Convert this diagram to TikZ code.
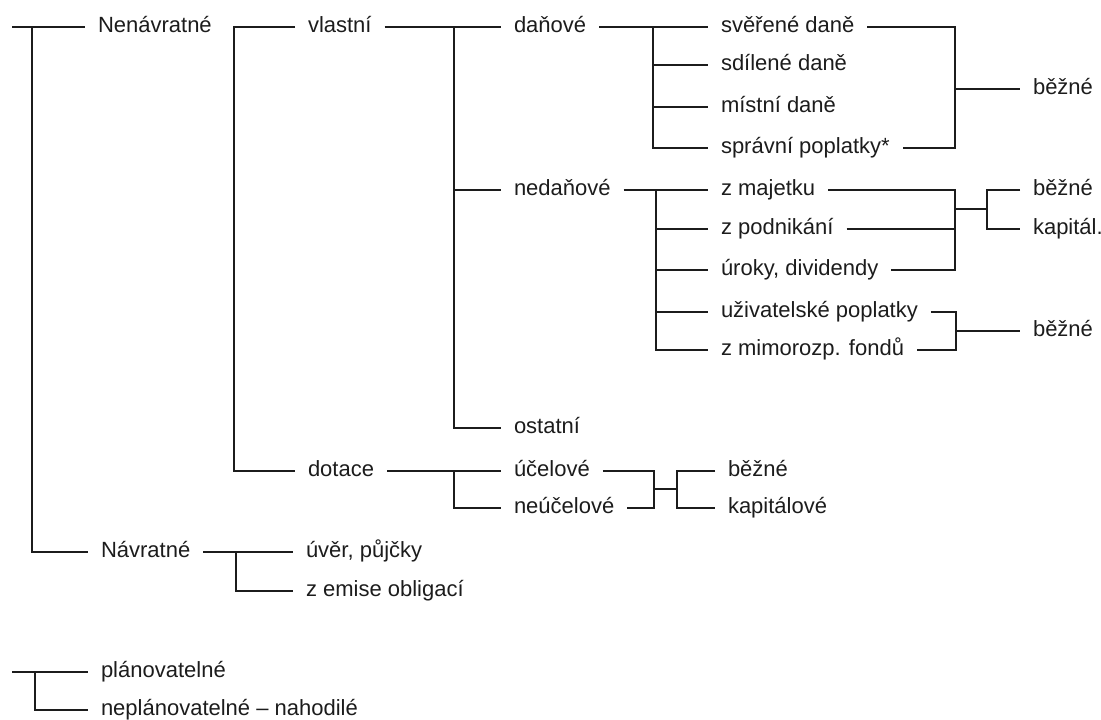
\documentclass[tikz,border=0pt]{standalone}
\usepackage{fontspec}
\setmainfont{Liberation Sans}
\usepackage{tikz}
\usepackage{xcolor}
\definecolor{ln}{HTML}{1c1c1c}

\begin{document}
\begin{tikzpicture}[x=0.5pt,y=-0.5pt,line width=1pt,color=ln,
    lbl/.style={anchor=west,inner xsep=6pt,inner ysep=0pt,text height=1.2ex,text depth=.2ex,font=\fontsize{11}{13}\selectfont}]
            \useasboundingbox (0,0) rectangle (1101,719);
            \node[lbl] (nenav) at (85,27) {Nenávratné};
            \node[lbl] (vlastni) at (295,27) {vlastní};
            \node[lbl] (danove) at (501,27) {daňové};
            \node[lbl] (nedanove) at (501,190) {nedaňové};
            \node[lbl] (ostatni) at (501,428) {ostatní};
            \node[lbl] (sverene) at (708,27) {svěřené daně};
            \node[lbl] (sdilene) at (708,65) {sdílené daně};
            \node[lbl] (mistni) at (708,107) {místní daně};
            \node[lbl] (spravni) at (708,148) {správní poplatky*};
            \node[lbl] (bezne1) at (1020,89) {běžné};
            \node[lbl] (majetek) at (708,190) {z majetku};
            \node[lbl] (podnikani) at (708,229) {z podnikání};
            \node[lbl] (uroky) at (708,270) {úroky, dividendy};
            \node[lbl] (uzivatel) at (708,312) {uživatelské poplatky};
            \node[lbl] (mimorozp) at (708,350) {z mimorozp. fondů};
            \node[lbl] (bezne2) at (1020,190) {běžné};
            \node[lbl] (kapital) at (1020,229) {kapitál.};
            \node[lbl] (bezne3) at (1020,331) {běžné};
            \node[lbl] (dotace) at (295,471) {dotace};
            \node[lbl] (ucelove) at (501,471) {účelové};
            \node[lbl] (neucelove) at (501,508) {neúčelové};
            \node[lbl] (bezne4) at (715,471) {běžné};
            \node[lbl] (kapitalove) at (715,508) {kapitálové};
            \node[lbl] (navratne) at (88,552) {Návratné};
            \node[lbl] (uver) at (293,552) {úvěr, půjčky};
            \node[lbl] (emise) at (293,591) {z emise obligací};
            \node[lbl] (planov) at (88,672) {plánovatelné};
            \node[lbl] (neplanov) at (88,710) {neplánovatelné -- nahodilé};

            \coordinate (r0) at (12,27);
            \coordinate (r1) at (32,27);
            \draw (r0) -- (nenav.west);
            \draw (r1) |- (navratne.west);
            \coordinate (k1) at (234,27);
            \draw (vlastni.west) -- (k1) |- (dotace.west);
            \draw (vlastni.east) -- (danove.west);
            \coordinate (k2) at (454,27);
            \draw (k2) |- (ostatni.west);
            \draw (k2 |- nedanove.west) -- (nedanove.west);
            \draw (danove.east) -- (sverene.west);
            \coordinate (k3) at (653,27);
            \draw (k3) |- (spravni.west);
            \foreach \n in {sdilene,mistni}
              \draw (k3 |- \n.west) -- (\n.west);
            \coordinate (k4) at (955,27);
            \draw (sverene.east) -- (k4) |- (spravni.east);
            \draw (k4 |- bezne1.west) -- (bezne1.west);

            \draw (nedanove.east) -- (majetek.west);
            \coordinate (k5) at (656,190);
            \draw (k5) |- (mimorozp.west);
            \foreach \n in {podnikani,uroky,uzivatel}
              \draw (k5 |- \n.west) -- (\n.west);
            \coordinate (k6) at (955,190);
            \draw (majetek.east) -- (k6) |- (uroky.east);
            \draw (podnikani.east) -- (k6 |- podnikani.east);
            \coordinate (k7) at (987,209);
            \draw (k6 |- k7) -- (k7);
            \draw (bezne2.west) -| (k7) |- (kapital.west);
            \coordinate (k8) at (956,312);
            \draw (uzivatel.east) -- (k8) |- (mimorozp.east);
            \draw (k8 |- bezne3.west) -- (bezne3.west);

            \draw (dotace.east) -- (ucelove.west);
            \coordinate (k9) at (454,471);
            \draw (k9) |- (neucelove.west);
            \coordinate (k10) at (654,471);
            \draw (ucelove.east) -- (k10) |- (neucelove.east);
            \coordinate (k11) at (677,489);
            \draw (k10 |- k11) -- (k11);
            \draw (bezne4.west) -| (k11) |- (kapitalove.west);

            \draw (navratne.east) -- (uver.west);
            \coordinate (k12) at (236,552);
            \draw (k12) |- (emise.west);

            \coordinate (l0) at (12,672);
            \coordinate (l1) at (35,672);
            \draw (l0) -- (planov.west);
            \draw (l1) |- (neplanov.west);
          \end{tikzpicture}
\end{document}
